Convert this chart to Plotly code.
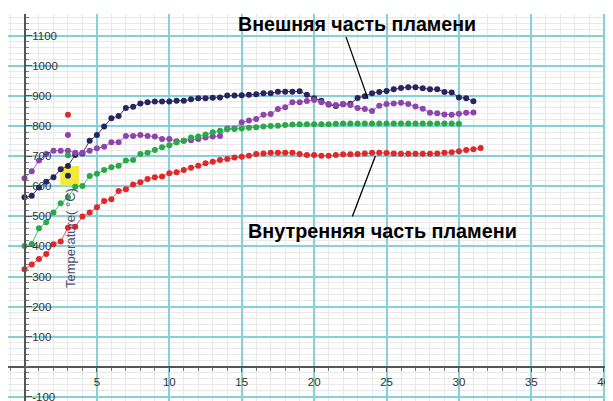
import plotly.graph_objects as go

# ---------------- data ----------------
step = 0.5
outer_temp = [563, 568, 596, 615, 630, 656, 667, 704, 709, 751, 770, 798, 826, 833, 860, 864,
              875, 879, 881, 881, 881, 884, 884, 889, 892, 892, 894, 895, 901, 901, 902, 904,
              905, 909, 909, 914, 914, 914, 915, 904, 892, 884, 871, 866, 872, 874, 893, 899,
              909, 913, 916, 922, 926, 929, 929, 925, 922, 922, 913, 911, 895, 892, 882]
purple_temp = [626, 650, 685, 707, 718, 718, 718, 711, 711, 718, 726, 731, 746, 746, 767, 767,
               770, 767, 765, 757, 757, 749, 751, 753, 757, 762, 765, 767, 792, 792, 812, 818,
               823, 837, 840, 856, 862, 879, 879, 883, 886, 879, 873, 870, 873, 870, 860, 856,
               850, 867, 873, 875, 877, 873, 865, 857, 844, 842, 838, 837, 841, 844, 845]
green_temp = [401, 408, 460, 480, 513, 543, 563, 598, 601, 634, 641, 654, 663, 668, 685, 687,
              707, 711, 720, 729, 736, 745, 751, 762, 765, 772, 779, 784, 789, 790, 792, 794,
              796, 798, 800, 801, 803, 805, 806, 806, 806, 806, 806, 807, 808, 808, 808, 808,
              808, 808, 808, 808, 808, 808, 808, 808, 808, 808, 808, 808, 807]
inner_temp = [324, 340, 358, 375, 407, 416, 462, 465, 499, 513, 530, 551, 557, 584, 590, 606,
              613, 624, 630, 632, 643, 646, 654, 661, 668, 676, 681, 687, 690, 695, 698, 701,
              707, 709, 711, 711, 711, 711, 707, 704, 704, 701, 701, 704, 706, 706, 707, 709,
              711, 711, 710, 709, 708, 708, 708, 708, 708, 709, 711, 713, 716, 720, 723, 727]

# isolated readings at t = 3
single_x = [3, 3, 3, 3]
single_y = [837, 770, 703, 635]
single_colors = ["#e0282a", "#8e44ad", "#2aa84a", "#27255e"]

x_ticks = [5, 10, 15, 20, 25, 30, 35, 40]
y_ticks = [-100, 100, 200, 300, 400, 500, 600, 700, 800, 900, 1000, 1100]

outer_label = "Внешняя часть пламени"
inner_label = "Внутренняя часть пламени"
axis_label = "Temperature( °C)"

X_RANGE = [-1.14, 40.64]
Y_RANGE = [-113.6, 1172]

def xs(n):
    return [i * step for i in range(n)]

series = [
    (outer_temp, "#27255e", "#3a3870"),
    (purple_temp, "#8e44ad", "#a066bd"),
    (green_temp, "#2aa84a", "#55bb6c"),
    (inner_temp, "#e0282a", "#e65557"),
]

fig = go.Figure()
for vals, mcol, lcol in series:
    fig.add_trace(go.Scatter(
        x=xs(len(vals)), y=vals, mode="lines+markers",
        line=dict(color=lcol, width=1),
        marker=dict(color=mcol, size=6),
        showlegend=False, hoverinfo="skip"))

fig.add_trace(go.Scatter(
    x=single_x, y=single_y, mode="markers",
    marker=dict(color=single_colors, size=6),
    showlegend=False, hoverinfo="skip"))

# yellow highlight square
fig.add_shape(type="rect", xref="x", yref="y", x0=2.47, x1=3.76, y0=601, y1=667,
              fillcolor="#f0ea3c", line=dict(width=0), layer="between")

# pointer lines
fig.add_shape(type="line", xref="x", yref="y", x0=22.2, y0=1096, x1=23.72, y1=890,
              line=dict(color="black", width=1.3))
fig.add_shape(type="line", xref="x", yref="y", x0=24.23, y0=700, x1=22.64, y1=499,
              line=dict(color="black", width=1.3))

fig.add_annotation(x=14.6, y=1140, xref="x", yref="y", text=outer_label, showarrow=False,
                   xanchor="left", yanchor="middle",
                   font=dict(family="Liberation Sans, Arial", size=19.6, color="black", weight="bold"))
fig.add_annotation(x=15.3, y=451, xref="x", yref="y", text=inner_label, showarrow=False,
                   xanchor="left", yanchor="middle",
                   font=dict(family="Liberation Sans, Arial", size=19.8, color="black", weight="bold"))
fig.add_annotation(x=3.21, y=428, xref="x", yref="y", text=axis_label, showarrow=False,
                   textangle=-90, xanchor="center", yanchor="middle",
                   font=dict(family="Liberation Sans, Arial", size=13, color="#4d4d70"))

ypos = (0 - Y_RANGE[0]) / (Y_RANGE[1] - Y_RANGE[0])
xpos = (0 - X_RANGE[0]) / (X_RANGE[1] - X_RANGE[0])

tickfont = dict(family="Liberation Sans, Arial", size=11.5, color="#333333")

# the page body adds an 8px offset; margins compensate so the plot area
# lands at page x 8..613, y 14..401
fig.update_layout(
    width=613, height=401,
    margin=dict(l=0, r=8, t=6, b=8, autoexpand=False),
    paper_bgcolor="white", plot_bgcolor="white",
    xaxis=dict(
        range=X_RANGE, domain=[0, 1], anchor="free", position=ypos, automargin=False,
        tickmode="array", tickvals=x_ticks, ticktext=[str(v) for v in x_ticks],
        showgrid=True, gridcolor="#86d0da", gridwidth=1.5,
        zeroline=False, showline=True, linecolor="#555555", linewidth=2,
        ticks="outside", ticklen=4, tickcolor="#555555",
        tickfont=tickfont, ticklabeloverflow="allow",
        minor=dict(dtick=1, tick0=0, showgrid=True, gridcolor="#e9e9e9", gridwidth=1,
                   ticks="outside", ticklen=3, tickcolor="#777777"),
    ),
    yaxis=dict(
        range=Y_RANGE, domain=[0, 1], anchor="free", position=xpos, automargin=False,
        tickmode="array", tickvals=y_ticks, ticktext=[str(v) for v in y_ticks],
        showgrid=True, gridcolor="#86d0da", gridwidth=1.5,
        zeroline=False, showline=True, linecolor="#555555", linewidth=2,
        ticks="inside", ticklen=6, tickcolor="#555555",
        ticklabelposition="inside", ticklabeloverflow="allow",
        tickfont=tickfont,
        minor=dict(dtick=20, tick0=0, showgrid=True, gridcolor="#e9e9e9", gridwidth=1,
                   ticks="inside", ticklen=3, tickcolor="#777777"),
    ),
)

fig.write_html("out.html")
